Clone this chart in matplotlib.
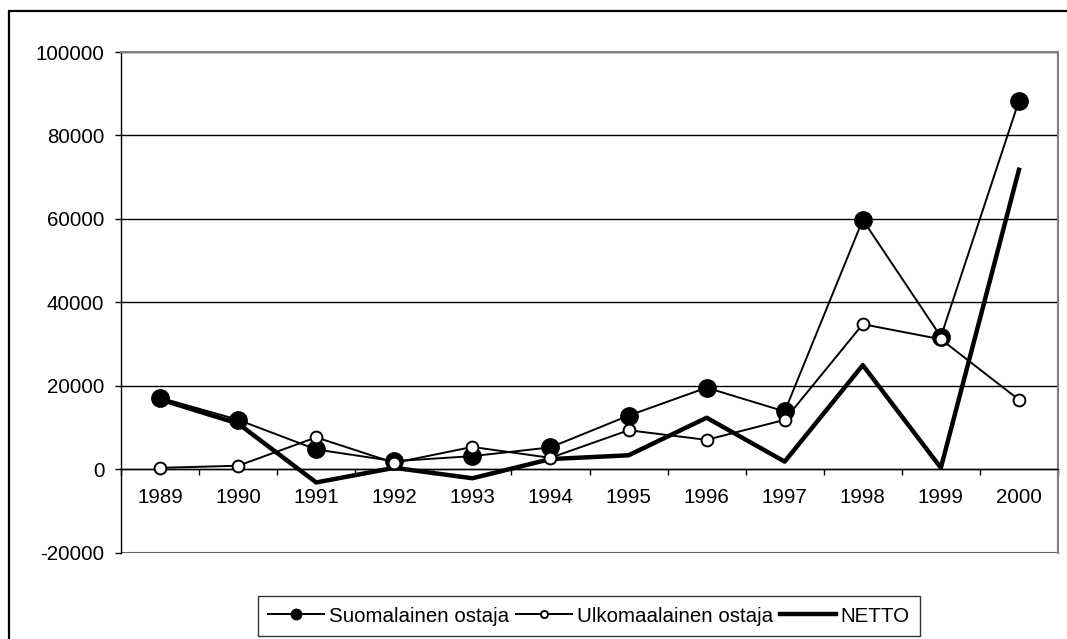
import numpy as np
import matplotlib
matplotlib.use("Agg")
import matplotlib.pyplot as plt
from matplotlib.patches import Rectangle

plt.rcParams['font.family'] = ['Liberation Sans', 'DejaVu Sans']

years = ["1989", "1990", "1991", "1992", "1993", "1994",
         "1995", "1996", "1997", "1998", "1999", "2000"]
suomalainen = [17200, 11900, 4800, 2000, 3200, 5300,
               12900, 19600, 13900, 59800, 31800, 88300]
ulkomaalainen = [400, 900, 7700, 1600, 5400, 2800,
                 9400, 7100, 11900, 34800, 31200, 16700]
netto = [16800, 11000, -3100, 400, -2100, 2500,
         3400, 12400, 1900, 25000, 400, 71800]
yticks = [-20000, 0, 20000, 40000, 60000, 80000, 100000]

fs = 14.8
fig = plt.figure(figsize=(10.67, 6.39), dpi=100)
ax = fig.add_axes([121/1067, 1 - 553/639, (1058 - 121)/1067, (553 - 52)/639])

x = np.arange(len(years))
ax.plot(x, suomalainen, color="black", lw=1.4, marker="o", ms=12.5,
        mfc="black", mec="black", label="Suomalainen ostaja", zorder=3)
ax.plot(x, ulkomaalainen, color="black", lw=1.4, marker="o", ms=8.5,
        mfc="white", mec="black", mew=1.4, label="Ulkomaalainen ostaja", zorder=4)
ax.plot(x, netto, color="black", lw=3.2, label="NETTO", zorder=2)

ax.set_xlim(-0.5, len(years) - 0.5)
ax.set_ylim(-20000, 100000)
ax.set_yticks(yticks)
ax.set_yticklabels([str(v) for v in yticks], fontsize=fs)
ax.yaxis.grid(True, color="black", lw=1)
ax.set_axisbelow(True)

# category axis sits on the zero line
ax.spines['bottom'].set_position(('data', 0))
ax.spines['bottom'].set_color("black")
ax.spines['bottom'].set_linewidth(1)
ax.spines['left'].set_color("black")
ax.spines['left'].set_linewidth(1)
for s in ['top', 'right']:
    ax.spines[s].set_color("#808080")
    ax.spines[s].set_linewidth(1.5)
ax.add_patch(Rectangle((0, 0), 1, 1, transform=ax.transAxes, fill=False,
                       edgecolor="#808080", lw=1.5, zorder=0.5))

ax.set_xticks(x)
ax.set_xticklabels(years, fontsize=fs)
ax.set_xticks(np.arange(-0.5, len(years)), minor=True)
ax.tick_params(axis='x', which='major', length=0, pad=13)
ax.tick_params(axis='x', which='minor', length=4, width=1, direction='out')
ax.tick_params(axis='y', length=4, width=1, pad=8)

fig.patches.append(Rectangle((9/1067, -0.05), 1.1, 0.05 + 1 - 11/639,
                             transform=fig.transFigure, fill=False,
                             edgecolor="black", lw=1.6))

leg = fig.legend(loc="center", bbox_to_anchor=(589/1067, 1 - 616/639), ncol=3,
                 fontsize=fs, frameon=True, fancybox=False, edgecolor="black",
                 handlelength=2.7, handletextpad=0.25, columnspacing=0.35,
                 borderpad=0.5, markerscale=0.6)
leg.get_frame().set_linewidth(1)

plt.savefig("out.png", dpi=100)
plt.close()
